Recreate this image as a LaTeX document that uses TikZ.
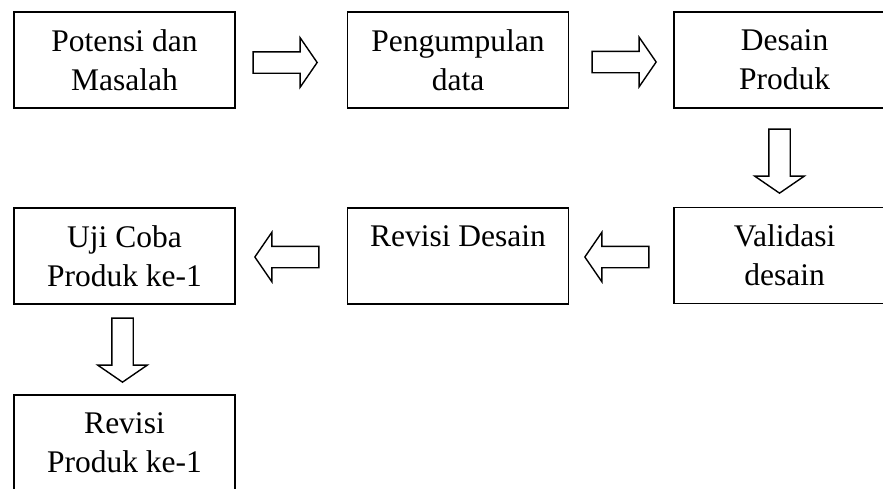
\documentclass[tikz,border=0pt]{standalone}
\usepackage{fontspec}
\setmainfont{Liberation Serif}
\usetikzlibrary{shapes.arrows}

\begin{document}
\begin{tikzpicture}[x=1pt,y=-1pt]
            \tikzset{
                stage/.style={rectangle,draw,line width=1.6pt,minimum width=221pt,minimum height=96pt,inner sep=0pt,align=center,font=\fontsize{31.5}{39}\selectfont,execute at begin node=\rule{0pt}{26pt}},
                flow/.style={single arrow,draw,line width=1.4pt,minimum height=64pt,inner sep=10pt,single arrow head extend=14pt,single arrow tip angle=111,anchor=tip}
            }
            \useasboundingbox (0,0) rectangle (883,488);
            % stages
            \node[stage] (potensi) at (124.5,60) {Potensi dan\\Masalah};
            \node[stage] (data) at (458,60) {Pengumpulan\\data};
            \node[stage] (desain) at (784.5,60) {Desain\\Produk};
            \node[stage] (validasi) at (784.5,255.5) {Validasi\\desain};
            \node[stage] (revdesain) at (458,256) {Revisi Desain\\\mbox{}};
            \node[stage] (ujicoba) at (124.5,256) {Uji Coba\\Produk ke-1};
            \node[stage] (revproduk) at (124.5,443) {Revisi\\Produk ke-1};

            % arrows (placed at their tips)
            \node[flow] (a1) at (318,62.5) {};
            \node[flow] (a2) at (657,62) {};
            \node[flow,shape border rotate=270] (a3) at (779.5,194) {};
            \node[flow,shape border rotate=180] (a4) at (584,257) {};
            \node[flow,shape border rotate=180] (a5) at (254,257) {};
            \node[flow,shape border rotate=270] (a6) at (122.5,383) {};
\end{tikzpicture}
\end{document}
